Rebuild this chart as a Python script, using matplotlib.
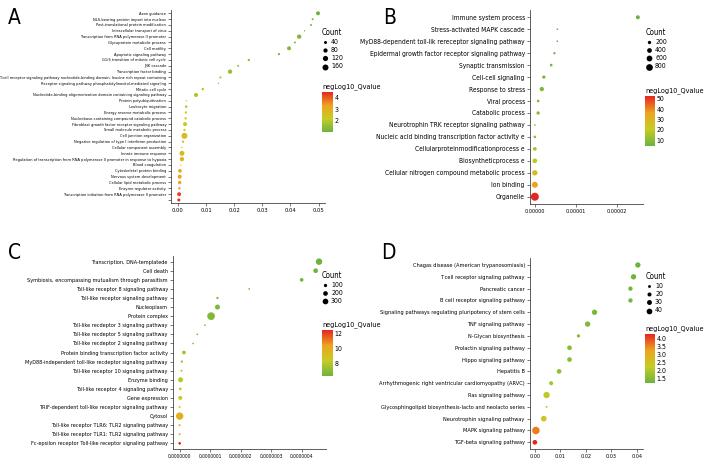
import numpy as np
import matplotlib
matplotlib.use('Agg')
import matplotlib.pyplot as plt
from matplotlib.colors import LinearSegmentedColormap

plt.rcParams['font.family'] = ['DejaVu Sans']
plt.rcParams['font.stretch'] = 'condensed'

W, H = 710, 470

# ---------------- panel A ----------------
termsA = ['Axon guidance', 'NLS-bearing protein import into nucleus',
          'Post-translational protein modification', 'Intracellular transport of virus',
          'Transcription from RNA polymerase II promoter', 'Glycoprotein metabolic process',
          'Cell motility', 'Apoptotic signaling pathway', 'G1/S transition of mitotic cell cycle',
          'JNK cascade', 'Transcription factor binding',
          'T cell receptor signaling pathway nucleotide-binding domain, leucine rich repeat containing',
          'Receptor signaling pathway phosphatidylinositol-mediated signaling',
          'Mitotic cell cycle',
          'Nucleotide-binding oligomerization domain containing signaling pathway',
          'Protein polyubiquitination', 'Leukocyte migration', 'Energy reserve metabolic process',
          'Nucleobase-containing compound catabolic process',
          'Fibroblast growth factor receptor signaling pathway', 'Small molecule metabolic process',
          'Cell junction organization', 'Negative regulation of type I interferon production',
          'Cellular component assembly', 'Innate immune response',
          'Regulation of transcription from RNA polymerase II promoter in response to hypoxia',
          'Blood coagulation', 'Cytoskeletal protein binding', 'Nervous system development',
          'Cellular lipid metabolic process', 'Enzyme regulator activity',
          'Transcription initiation from RNA polymerase II promoter', '']
ratioA = [0.0498, 0.0479, 0.0473, 0.0450, 0.0431, 0.0416, 0.0395, 0.0359, 0.0252, 0.0214,
          0.0185, 0.0151, 0.0144, 0.0088, 0.0064, 0.0030, 0.0029, 0.0028, 0.0027, 0.0025,
          0.0023, 0.0023, 0.0018, 0.0014, 0.0014, 0.0014, 0.0010, 0.0007, 0.0006, 0.0006,
          0.0005, 0.0004, 0.0003]
countA = [71, 18, 18, 8, 83, 18, 71, 24, 24, 18, 83, 18, 8, 24, 71, 8, 32, 24, 24, 71,
          24, 160, 24, 8, 111, 83, 8, 60, 71, 50, 24, 71, 40]
qA = [1.05, 1.25, 1.25, 1.2, 1.3, 1.3, 1.35, 1.35, 1.5, 1.55, 1.6, 1.65, 1.65, 1.8, 1.85,
      2.1, 2.2, 2.2, 2.25, 2.3, 2.3, 2.6, 2.6, 2.65, 2.7, 2.8, 2.9, 3.2, 3.3, 3.35, 3.5,
      4.2, 4.5]

# ---------------- panel B ----------------
termsB = ['Immune system process', 'Stress-activated MAPK cascade',
          'MyD88-dependent toll-lik rereceptor signaling pathway',
          'Epidermal growth factor receptor signaling pathway', 'Synaptic transmission',
          'Cell-cell signaling', 'Response to stress', 'Viral process', 'Catabolic process',
          'Neurotrophin TRK receptor signaling pathway',
          'Nucleic acid binding transcription factor activity e',
          'Cellularproteinmodificationprocess e', 'Biosyntheticprocess e',
          'Cellular nitrogen compound metabolic process', 'Ion binding', 'Organelle']
ratioB = [2.52e-5, 0.55e-5, 0.55e-5, 0.48e-5, 0.40e-5, 0.22e-5, 0.17e-5, 0.08e-5, 0.08e-5,
          0.0, 0.0, 0.0, 0.0, 0.0, 0.0, 0.0]
countB = [285, 51, 51, 95, 128, 195, 335, 128, 195, 51, 128, 240, 390, 510, 640, 1140]
qB = [4.6, 5, 5, 5.5, 6, 7, 8, 9, 9, 10, 12, 15, 19, 28, 37, 52.6]

# ---------------- panel C ----------------
termsC = ['Transcription, DNA-templatede', 'Cell death',
          'Symbiosis, encompassing mutualism through parasitism',
          'Toll-like receptor 8 signaling pathway', 'Toll-like receptor signaling pathway',
          'Nucleoplasm', 'Protein complex', 'Toll-like recdeptor 3 signaling pathway',
          'Toll-like recdeptor 5 signaling pathway', 'Toll-like recdeptor 2 signaling pathway',
          'Protein binding transcription factor activity',
          'MyD88-independent toll-like recdeptor signaling pathway',
          'Toll-like receptor 10 signaling pathway', 'Enzyme binding',
          'Toll-like receptor 4 signaling pathway', 'Gene expression',
          'TRIF-dependent toll-like receptor signaling pathway', 'Cytosol',
          'Toll-like receptor TLR6: TLR2 signaling pathway',
          'Toll-like receptor TLR1: TLR2 signaling pathway',
          'Fc-epsilon receptor Toll-like receptor signaling pathway']
ratioC = [4.57e-7, 4.46e-7, 4.0e-7, 2.28e-7, 1.24e-7, 1.24e-7, 1.03e-7, 0.83e-7, 0.58e-7,
          0.44e-7, 0.14e-7, 0.07e-7, 0.06e-7, 0.03e-7, 0.02e-7, 0.02e-7, 0.0, 0.0, 0.0,
          0.0, 0.0]
countC = [380, 200, 125, 27, 50, 230, 550, 27, 27, 27, 125, 50, 36, 230, 65, 150, 36, 500,
          36, 36, 65]
qC = [6.4, 6.5, 6.6, 6.7, 6.8, 6.8, 6.9, 7.0, 7.0, 7.1, 7.5, 7.6, 7.7, 8.0, 8.2, 8.4, 8.8,
      9.8, 10.0, 10.2, 12.5]

# ---------------- panel D ----------------
termsD = ['Chagas disease (American trypanosomiasis)', 'T cell receptor signaling pathway',
          'Pancreatic cancer', 'B cell receptor signaling pathway',
          'Signaling pathways regulating pluripotency of stem cells', 'TNF signaling pathway',
          'N-Glycan biosynthesis', 'Prolactin signaling pathway', 'Hippo signaling pathway',
          'Hepatitis B', 'Arrhythmogenic right ventricular cardiomyopathy (ARVC)',
          'Ras signaling pathway', 'Glycosphingolipid biosynthesis-lacto and neolacto series',
          'Neurotrophin signaling pathway', 'MAPK signaling pathway', 'TGF-beta signaling pathway']
ratioD = [0.0404, 0.0387, 0.0375, 0.0375, 0.0234, 0.0207, 0.0171, 0.0136, 0.0136, 0.0095,
          0.0064, 0.0046, 0.0046, 0.0035, 0.0004, 0.0]
countD = [35, 35, 23, 23, 35, 35, 13, 27, 27, 27, 20, 49, 5, 40, 70, 27]
qD = [1.25, 1.3, 1.35, 1.35, 1.4, 1.45, 1.55, 1.6, 1.6, 1.7, 1.9, 2.2, 2.3, 2.4, 3.6, 4.31]

cmap = LinearSegmentedColormap.from_list('gyr', ['#6cb33e', '#c6cc22', '#eda41e', '#e52620'])

fig = plt.figure(figsize=(W / 100, H / 100), dpi=100)


def px(x0, y0, x1, y1):
    return [x0 / W, 1 - y1 / H, (x1 - x0) / W, (y1 - y0) / H]


def panel(letter, letter_xy, rect, terms, ratio, count, q, xticks, fmt, xtsize,
          dref, cref, leg_counts, leg_xy, cbar_rect, cbar_ticks, cbar_fmt):
    ax = fig.add_axes(px(*rect))
    n = len(terms)
    y = np.arange(n, 0, -1)
    k = (dref * 0.72) ** 2 / cref
    sc = ax.scatter(ratio, y, s=np.array(count) * k, c=q, cmap=cmap, linewidths=0)
    ax.set_ylim(0.4, n + 0.6)
    xmax = max(ratio)
    ax.set_xlim(-0.05 * xmax, 1.05 * xmax)
    ax.set_yticks(y)
    ax.set_yticklabels(terms, fontsize=6)
    ax.set_xticks(xticks)
    ax.set_xticklabels([fmt % v for v in xticks], fontsize=xtsize)
    for s in ['top', 'right']:
        ax.spines[s].set_visible(False)
    for s in ['left', 'bottom']:
        ax.spines[s].set_color('#444444')
        ax.spines[s].set_linewidth(0.6)
    ax.tick_params(length=2, width=0.5, color='#444444', pad=1.5)
    fig.text(letter_xy[0] / W, 1 - letter_xy[1] / H, letter, fontsize=15, va='top')

    handles = [ax.scatter([], [], s=c * k, c='black', linewidths=0) for c in leg_counts]
    leg = ax.legend(handles, [str(c) for c in leg_counts], title='Count', loc='upper left',
                    bbox_to_anchor=(leg_xy[0] / W, 1 - leg_xy[1] / H),
                    bbox_transform=fig.transFigure, frameon=False, fontsize=5,
                    title_fontsize=5.5, labelspacing=0.3, handletextpad=0.3,
                    borderpad=0, borderaxespad=0, handlelength=1.0)
    leg._legend_box.align = 'left'

    cax = fig.add_axes(px(*cbar_rect))
    cb = fig.colorbar(sc, cax=cax)
    cb.outline.set_visible(False)
    cb.set_ticks(cbar_ticks)
    cb.set_ticklabels([cbar_fmt % v for v in cbar_ticks])
    cax.tick_params(length=0, labelsize=5, pad=1)
    cax.text(0, 1.04, 'negLog10_Qvalue', transform=cax.transAxes, fontsize=5.2,
             va='bottom', ha='left')
    return ax


axA = panel('A', (8, 8), (171, 9.8, 325, 203.5), termsA, ratioA, countA, qA,
            [0, 0.01, 0.02, 0.03, 0.04, 0.05], '%.2f', 4.2, 6.0, 160, [40, 80, 120, 160],
            (322, 28), (322, 92, 333, 132), [2, 3, 4], '%d')
axB = panel('B', (383, 8), (529.7, 10.1, 643, 203.9), termsB, ratioB, countB, qB,
            [0, 1e-5, 2e-5], '%.5f', 4.0, 6.7, 800, [200, 400, 600, 800],
            (646, 28), (645, 96, 655, 146), [10, 20, 30, 40, 50], '%d')
axC = panel('C', (8, 243), (172.7, 256.2, 326, 448.8), termsC, ratioC, countC, qC,
            [0, 1e-7, 2e-7, 3e-7, 4e-7], '%.7f', 3.6, 5.7, 300, [100, 200, 300],
            (322, 271), (322, 330, 333, 376), [8, 10, 12], '%d')
axD = panel('D', (381, 243), (529.7, 257.9, 643, 449.4), termsD, ratioD, countD, qD,
            [0, 0.01, 0.02, 0.03, 0.04], '%.2f', 4.0, 5.7, 40, [10, 20, 30, 40],
            (646, 272), (645, 334, 655, 383), [1.5, 2.0, 2.5, 3.0, 3.5, 4.0], '%.1f')

# shrink the category labels so the longest one fits the width seen in the reference
fig.canvas.draw()
renderer = fig.canvas.get_renderer()
for ax, target in [(axA, 166), (axB, 166), (axC, 144), (axD, 146)]:
    widest = max(t.get_window_extent(renderer).width for t in ax.get_yticklabels())
    for t in ax.get_yticklabels():
        t.set_fontsize(6 * target / widest)

fig.savefig('out.png', dpi=100)
